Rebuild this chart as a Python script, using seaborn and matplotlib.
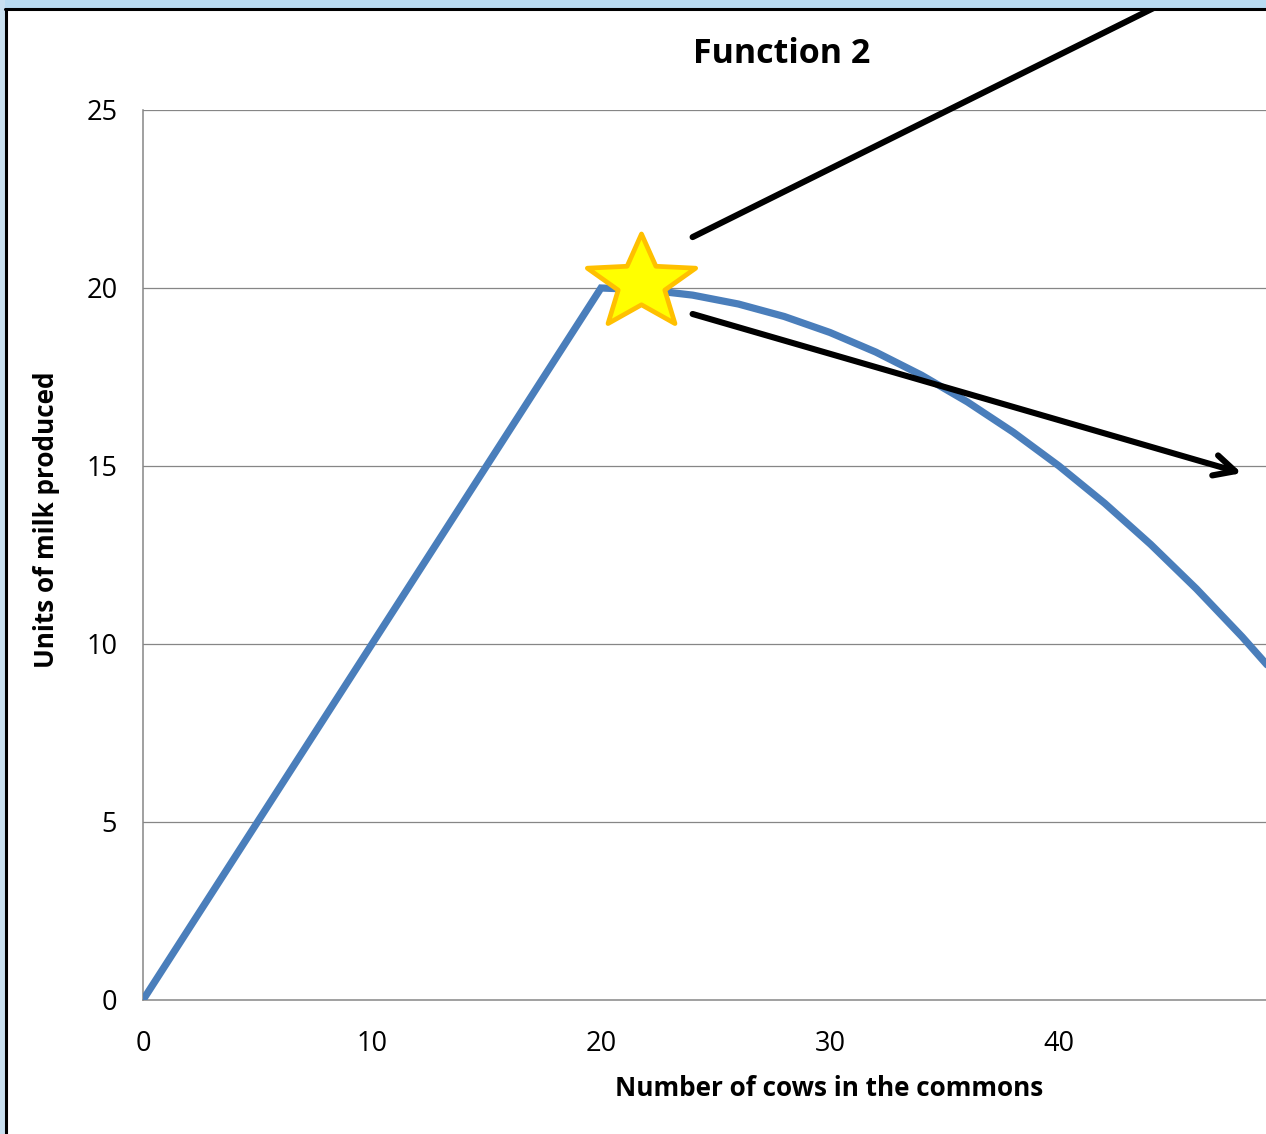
import numpy as np
import pandas as pd
import seaborn as sns
import matplotlib.pyplot as plt
from matplotlib.path import Path
from matplotlib.patches import Rectangle
from matplotlib.lines import Line2D

# Milk output as a function of herd size
cows = [0, 2, 4, 6, 8, 10, 12, 14, 16, 18, 20, 22, 24, 26, 28, 30,
        32, 34, 36, 38, 40, 42, 44, 46, 48, 50]
milk = [0, 2, 4, 6, 8, 10, 12, 14, 16, 18, 20, 19.95, 19.8, 19.55, 19.2, 18.75,
        18.2, 17.55, 16.8, 15.95, 15.0, 13.95, 12.8, 11.55, 10.2, 8.75]

x_ticks = [0, 10, 20, 30, 40]
y_ticks = [0, 5, 10, 15, 20, 25]

title = "Function 2"
x_label = "Number of cows in the commons"
y_label = "Units of milk produced"

# Highlighted optimum and the two arrows leaving it
star_pos = (21.75, 20.14)
upper_arrow = ((24.0, 21.43), (50.5, 29.9))
lower_arrow = ((24.0, 19.27), (47.98, 14.8))

df = pd.DataFrame({"cows": cows, "milk": milk})

sns.set_style("white")
plt.rcParams["font.family"] = ["Open Sans", "DejaVu Sans"]
plt.rcParams["text.color"] = "black"

W, H = 1266, 1134
fig = plt.figure(figsize=(W / 100, H / 100), dpi=100)

# Axes extend past the right edge of the canvas
left, right, top, bottom = 143, 1288, 110, 1000
ax = fig.add_axes([left / W, 1 - bottom / H, (right - left) / W, (bottom - top) / H])

grid_col = "#868686"
sns.lineplot(data=df, x="cows", y="milk", ax=ax, color="#4A7EBB",
             linewidth=5.2, solid_joinstyle="miter", zorder=3)

ax.set_xlim(0, 50)
ax.set_ylim(0, 25)
ax.set_xticks(x_ticks)
ax.set_yticks(y_ticks)
ax.set_xticklabels([str(v) for v in x_ticks])
ax.set_yticklabels([str(v) for v in y_ticks])
ax.set_xlabel("")
ax.set_ylabel("")

for y in y_ticks[1:]:
    ax.axhline(y, color=grid_col, linewidth=0.9, zorder=1)

for side in ["top", "right"]:
    ax.spines[side].set_visible(False)
for side in ["left", "bottom"]:
    ax.spines[side].set_color(grid_col)
    ax.spines[side].set_linewidth(1.1)

ax.tick_params(axis="both", which="major", direction="out", length=7.5,
               width=1, color=grid_col, labelsize=19.5, labelcolor="black")
ax.tick_params(axis="y", pad=11)
ax.tick_params(axis="x", pad=14)

# Star marker (slightly wider than a regular star)
n = 5
ang = np.pi / 2 + np.arange(2 * n) * np.pi / n
rad = np.where(np.arange(2 * n) % 2 == 0, 1.0, 0.43)
verts = np.column_stack([1.15 * rad * np.cos(ang), rad * np.sin(ang)])
verts = np.vstack([verts, verts[:1]])
codes = [Path.MOVETO] + [Path.LINETO] * (2 * n - 1) + [Path.CLOSEPOLY]
star = Path(verts, codes)
ax.plot([star_pos[0]], [star_pos[1]], marker=star, markersize=78,
        markerfacecolor="#FFFF00", markeredgecolor="#FFC000",
        markeredgewidth=3.4, linestyle="none", zorder=5, clip_on=False)

# Arrows
ax.annotate("", xy=upper_arrow[1], xytext=upper_arrow[0],
            arrowprops=dict(arrowstyle="-", color="black", lw=4.4,
                            shrinkA=0, shrinkB=0),
            annotation_clip=False, zorder=6)
ax.annotate("", xy=lower_arrow[1], xytext=lower_arrow[0],
            arrowprops=dict(arrowstyle="->,head_length=1.5,head_width=0.75",
                            color="black", lw=4.4, capstyle="round",
                            joinstyle="round", shrinkA=0, shrinkB=0),
            annotation_clip=False, zorder=6)

# Titles
fig.text(782 / W, 1 - 54 / H, title, ha="center", va="center",
         fontsize=24.5, fontweight="bold")
fig.text(829 / W, 1 - 1088 / H, x_label, ha="center", va="center",
         fontsize=18.8, fontweight="bold")
fig.text(47 / W, 1 - 520 / H, y_label, ha="center", va="center",
         rotation=90, fontsize=18.8, fontweight="bold")

# Surrounding frame: light blue band and black border
fig.patches.append(Rectangle((0, 1 - 8 / H), 1, 8 / H, transform=fig.transFigure,
                             facecolor="#B9DBF1", edgecolor="none", zorder=0))
fig.patches.append(Rectangle((0, 0), 5 / W, 1, transform=fig.transFigure,
                             facecolor="#C9E0F0", edgecolor="none", zorder=0))
fig.add_artist(Line2D([5 / W, 1], [1 - 8.5 / H, 1 - 8.5 / H],
                      transform=fig.transFigure, color="black", lw=2.2))
fig.add_artist(Line2D([5.5 / W, 5.5 / W], [0, 1 - 8.5 / H],
                      transform=fig.transFigure, color="black", lw=2.2))

fig.savefig("out.png", dpi=100)
